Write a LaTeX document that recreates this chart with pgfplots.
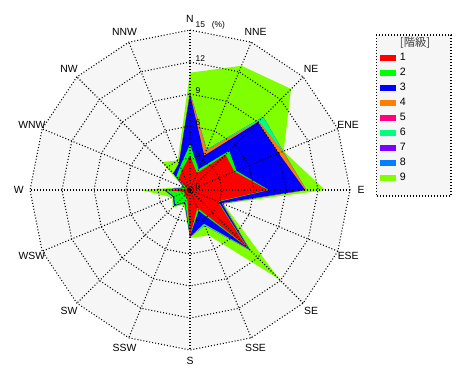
\documentclass[border=0pt]{standalone}
\usepackage{pgfplots}
\pgfplotsset{compat=1.18}
\usepackage{pgfplotstable}
\usepackage{fontspec}
\setmainfont{Liberation Sans}
\newfontfamily\cjk{Noto Sans CJK JP}
\definecolor{k1}{RGB}{255,0,0}
\definecolor{k2}{RGB}{0,255,0}
\definecolor{k3}{RGB}{0,0,255}
\definecolor{k4}{RGB}{255,128,0}
\definecolor{k5}{RGB}{255,0,128}
\definecolor{k6}{RGB}{0,255,128}
\definecolor{k7}{RGB}{128,0,255}
\definecolor{k8}{RGB}{0,128,255}
\definecolor{k9}{RGB}{128,255,0}
\definecolor{bg}{RGB}{246,246,246}
\tikzset{dotpat/.style={black, line width=0.8pt, dash pattern=on 0.75pt off 1.5pt}}

% cumulative frequency (%) per class, angle = math angle (N = 90)
\pgfplotstableread{
angle  c1  c2  c3   c4   c5   c6   c7   c8   c9
90     3.2 4.3 9.0  9.1  9.1  9.1  9.1  9.1  11.0
67.5   1.7 2.1 3.5  4.0  4.0  4.1  4.1  4.1  12.6
45     4.7 5.2 9.0  9.1  9.1  9.7  9.7  9.7  13.4
22.5   4.5 4.7 9.0  9.4  9.4  9.45 9.45 9.45 9.5
0      7.3 7.4 10.8 10.9 10.9 10.9 10.9 10.9 12.65
-22.5  2.8 2.9 3.2  3.25 3.25 3.3  3.3  3.3  3.4
-45    7.4 7.6 7.8  7.9  7.9  8.0  8.0  8.0  11.8
-67.5  1.8 2.1 3.4  3.4  3.4  3.6  3.6  3.6  4.6
-90    4.3 4.3 4.4  4.4  4.4  4.4  4.4  4.4  4.5
-112.5 0.7 1.2 1.3  1.3  1.3  1.3  1.3  1.3  1.5
-135   0.8 2.0 2.1  2.1  2.1  2.1  2.1  2.1  2.3
-157.5 0.5 1.6 1.7  1.7  1.7  1.7  1.7  1.7  1.8
180    2.1 2.3 2.4  2.4  2.4  2.4  2.4  2.4  4.6
157.5  0.3 0.5 0.6  0.6  0.6  0.6  0.6  0.6  0.7
135    1.5 1.8 2.2  2.2  2.2  2.2  2.2  2.2  3.7
112.5  2.0 2.4 2.7  2.7  2.7  2.7  2.7  2.7  3.0
}\windtab

\pgfplotstableread{
angle  g3 g6 g9 g12 g15
90     3  6  9  12  15
67.5   3  6  9  12  15
45     3  6  9  12  15
22.5   3  6  9  12  15
0      3  6  9  12  15
-22.5  3  6  9  12  15
-45    3  6  9  12  15
-67.5  3  6  9  12  15
-90    3  6  9  12  15
-112.5 3  6  9  12  15
-135   3  6  9  12  15
-157.5 3  6  9  12  15
180    3  6  9  12  15
157.5  3  6  9  12  15
135    3  6  9  12  15
112.5  3  6  9  12  15
}\gridtab

\begin{document}
\begin{tikzpicture}
\begin{axis}[
  x=8pt, y=8pt,
  xmin=-17.8125, xmax=26.25, ymin=-17.8125, ymax=17.8125,
  hide axis, clip=false,
  data cs=polar,
  reverse legend,
  legend image code/.code={\fill[#1] (0pt,-2.2pt) rectangle (12pt,2.2pt);},
  legend style={at={(axis cs:17.81,14.5)}, anchor=north west,
    draw=none, fill=none, inner sep=0pt, outer sep=0pt,
    font=\fontsize{8}{9}\selectfont,
    row sep=0pt, column sep=3pt,
    nodes={inner sep=0pt, minimum height=11.25pt}},
  legend cell align=left,
]
\path (rel axis cs:0,0) rectangle (rel axis cs:1,1);
\addplot[fill=bg, draw=none, forget plot] table[x=angle,y=g15]{\gridtab} -- cycle;

\addplot[fill=k9, draw=none] table[x=angle,y=c9]{\windtab} -- cycle; \addlegendentry{9}
\addplot[fill=k8, draw=none] table[x=angle,y=c8]{\windtab} -- cycle; \addlegendentry{8}
\addplot[fill=k7, draw=none] table[x=angle,y=c7]{\windtab} -- cycle; \addlegendentry{7}
\addplot[fill=k6, draw=none] table[x=angle,y=c6]{\windtab} -- cycle; \addlegendentry{6}
\addplot[fill=k5, draw=none] table[x=angle,y=c5]{\windtab} -- cycle; \addlegendentry{5}
\addplot[fill=k4, draw=none] table[x=angle,y=c4]{\windtab} -- cycle; \addlegendentry{4}
\addplot[fill=k3, draw=none] table[x=angle,y=c3]{\windtab} -- cycle; \addlegendentry{3}
\addplot[fill=k2, draw=none] table[x=angle,y=c2]{\windtab} -- cycle; \addlegendentry{2}
\addplot[fill=k1, draw=none] table[x=angle,y=c1]{\windtab} -- cycle; \addlegendentry{1}

% polygon grid
\addplot[dotpat, forget plot] table[x=angle,y=g3]{\gridtab} -- cycle;
\addplot[dotpat, forget plot] table[x=angle,y=g6]{\gridtab} -- cycle;
\addplot[dotpat, forget plot] table[x=angle,y=g9]{\gridtab} -- cycle;
\addplot[dotpat, forget plot] table[x=angle,y=g12]{\gridtab} -- cycle;
\addplot[dotpat, forget plot] table[x=angle,y=g15]{\gridtab} -- cycle;
\addplot[dotpat, forget plot] coordinates {(90,15) (270,15)};
\addplot[dotpat, forget plot] coordinates {(67.5,15) (247.5,15)};
\addplot[dotpat, forget plot] coordinates {(45,15) (225,15)};
\addplot[dotpat, forget plot] coordinates {(22.5,15) (202.5,15)};
\addplot[dotpat, forget plot] coordinates {(0,15) (180,15)};
\addplot[dotpat, forget plot] coordinates {(-22.5,15) (157.5,15)};
\addplot[dotpat, forget plot] coordinates {(-45,15) (135,15)};
\addplot[dotpat, forget plot] coordinates {(-67.5,15) (112.5,15)};
\addplot[only marks, mark=*, mark size=1.2pt, black, forget plot] coordinates {(0,0)};

% ring labels
\begin{scope}[font=\fontsize{6.3}{7}\selectfont, inner sep=0pt]
\node[anchor=south west] at (axis cs:0.5,15.0) {15\ \ \ (\%)};
\node[anchor=south west] at (axis cs:0.5,12.0) {12};
\node[anchor=south west] at (axis cs:0.5,9.0) {9};
\node[anchor=south west] at (axis cs:0.5,6.0) {6};
\node[anchor=south west] at (axis cs:0.5,3.0) {3};
\node[anchor=south west] at (axis cs:0.5,0.0) {0};
\end{scope}

% direction labels
\begin{scope}[font=\fontsize{7.8}{8}\selectfont, inner sep=0pt]
\node at (axis cs:0,16.05) {N};
\node at (axis cs:6.142,14.828) {NNE};
\node at (axis cs:11.349,11.349) {NE};
\node at (axis cs:14.828,6.142) {ENE};
\node at (axis cs:16.05,0) {E};
\node at (axis cs:14.828,-6.142) {ESE};
\node at (axis cs:11.349,-11.349) {SE};
\node at (axis cs:6.142,-14.828) {SSE};
\node at (axis cs:0,-16.05) {S};
\node at (axis cs:-6.142,-14.828) {SSW};
\node at (axis cs:-11.349,-11.349) {SW};
\node at (axis cs:-14.828,-6.142) {WSW};
\node at (axis cs:-16.05,0) {W};
\node at (axis cs:-14.828,6.142) {WNW};
\node at (axis cs:-11.349,11.349) {NW};
\node at (axis cs:-6.142,14.828) {NNW};
\end{scope}

% legend frame
\draw[dotpat, fill=bg] (axis cs:17.44,14.53) rectangle (axis cs:24.47,-0.56);
\addlegendimage{empty legend}
\addlegendentry{\textcolor[RGB]{60,60,60}{\cjk\fontsize{8.5}{9}\selectfont [階級]}}
\end{axis}
\end{tikzpicture}
\end{document}
